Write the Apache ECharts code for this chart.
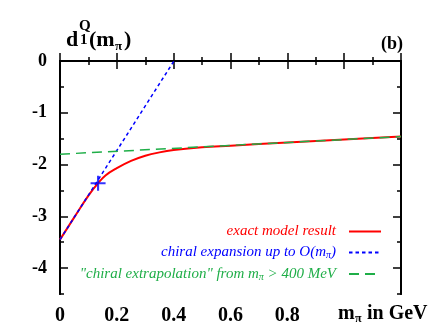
<!DOCTYPE html>
<html><head><meta charset="utf-8">
<script src="https://cdn.jsdelivr.net/npm/echarts@6/dist/echarts.min.js"></script>
<style>html,body{margin:0;padding:0;background:#fff}#c{width:436px;height:336px}</style>
</head><body><div id="c"></div>
<script>
// x in GeV, y = d1^Q
const exactX = [0, 0.05, 0.1, 0.134, 0.16, 0.2, 0.25, 0.3, 0.35, 0.4, 0.5, 0.6, 0.8, 1.0, 1.2];
const exactY = [-3.45, -3.02, -2.60, -2.36, -2.21, -2.07, -1.93, -1.83, -1.765, -1.72, -1.665, -1.635, -1.575, -1.515, -1.46];
const chiralX = [0, 0.401];
const chiralY = [-3.45, 0];
const extrapX = [0, 1.2];
const extrapY = [-1.80, -1.46];
const physPoint = [0.134, -2.36];
const xTickLabels = ['0', '0.2', '0.4', '0.6', '0.8'];
const yMajor = [-4, -3, -2, -1, 0];
const yMinor = [-4.5, -3.5, -2.5, -1.5, -0.5];
const names = ['exact model result', 'chiral expansion up to O(mπ)', '"chiral extrapolation" from mπ > 400 MeV'];

const zip = (a, b) => a.map((v, i) => [v, b[i]]);
const serif = '"Liberation Serif","Times New Roman",serif';
const frame = {lineStyle: {color: '#000', width: 2}};
const base = {min: -4.5, max: 0, type: 'value', splitLine: {show: false}, axisLine: frame};
const green = '#1fae48';

const chart = echarts.init(document.getElementById('c'));
const legendRich = {
  s: {fontSize: 10, fontStyle: 'italic', fontFamily: serif, verticalAlign: 'bottom', padding: [6, 0, 0, 0]}
};
const fmtName = n => n.replace('mπ', 'm{s|π}');
chart.setOption({
  animation: false,
  grid: {left: 60, right: 35, top: 61, bottom: 42},
  xAxis: [
    {type: 'value', min: 0, max: 1.2, interval: 0.2, position: 'bottom', splitLine: {show: false}, axisLine: frame,
     axisTick: {inside: true, length: 8, lineStyle: {color: '#000', width: 1.5}},
     minorTick: {show: true, splitNumber: 2, length: 4, lineStyle: {color: '#000', width: 1.5}},
     axisLabel: {margin: 12, fontSize: 20, fontWeight: 'bold', fontFamily: serif, color: '#000',
       formatter: v => { const i = Math.round(v / 0.2); return i < xTickLabels.length ? xTickLabels[i] : ''; }}},
    {type: 'value', min: 0, max: 1.2, interval: 0.2, position: 'top', splitLine: {show: false}, axisLine: frame,
     axisTick: {inside: true, length: 8, lineStyle: {color: '#000', width: 1.5}},
     minorTick: {show: true, splitNumber: 2, length: 4, lineStyle: {color: '#000', width: 1.5}},
     axisLabel: {show: false}}
  ],
  yAxis: [
    Object.assign({}, base, {position: 'left',
      axisTick: {inside: true, length: 8, customValues: yMajor, lineStyle: {color: '#000', width: 1.5}},
      axisLabel: {customValues: yMajor, margin: 13, fontSize: 18, fontWeight: 'bold', fontFamily: serif, color: '#000'}}),
    Object.assign({}, base, {position: 'left',
      axisTick: {inside: true, length: 4, customValues: yMinor, lineStyle: {color: '#000', width: 1.5}},
      axisLabel: {show: false}}),
    Object.assign({}, base, {position: 'right',
      axisTick: {inside: true, length: 8, customValues: yMajor, lineStyle: {color: '#000', width: 1.5}},
      axisLabel: {show: false}}),
    Object.assign({}, base, {position: 'right',
      axisTick: {inside: true, length: 4, customValues: yMinor, lineStyle: {color: '#000', width: 1.5}},
      axisLabel: {show: false}})
  ],
  legend: {
    orient: 'vertical', align: 'right', right: 54, top: 224, padding: 0, itemGap: 6, itemWidth: 32, itemHeight: 14,
    itemStyle: {color: 'rgba(0,0,0,0)', borderWidth: 0, opacity: 0},
    textStyle: {fontFamily: serif, fontStyle: 'italic', fontSize: 15, padding: [0, 8, 0, 0], rich: legendRich},
    formatter: fmtName,
    data: [
      {name: names[0], textStyle: {color: '#ff0000'}},
      {name: names[1], textStyle: {color: '#0000ff'}},
      {name: names[2], textStyle: {color: green}}
    ]
  },
  series: [
    {name: names[0], type: 'line', data: zip(exactX, exactY), smooth: 0.4, symbol: 'none',
     lineStyle: {color: '#ff0000', width: 2}, itemStyle: {color: '#ff0000'}, z: 2},
    {name: names[1], type: 'line', data: zip(chiralX, chiralY), symbol: 'none',
     lineStyle: {color: '#0000ff', width: 1.5, type: [3.5, 3]}, itemStyle: {color: '#0000ff'}, z: 3},
    {name: names[2], type: 'line', data: zip(extrapX, extrapY), symbol: 'none',
     lineStyle: {color: green, width: 1.5, type: [10, 6]}, itemStyle: {color: green}, z: 4},
    {name: 'phys', type: 'scatter', data: [physPoint], symbol: 'path://M-1.4,-10h2.8v20h-2.8z M-10,-1.4h20v2.8h-20z',
     symbolSize: 15, itemStyle: {color: '#0000ff'}, z: 5}
  ],
  graphic: [
    {type: 'text', left: 66, top: 29, style: {text: 'd', font: 'bold 22px ' + serif, fill: '#000'}},
    {type: 'text', left: 79, top: 19, style: {text: 'Q', font: 'bold 15px ' + serif, fill: '#000'}},
    {type: 'text', left: 80, top: 33, style: {text: '1', font: 'bold 15px ' + serif, fill: '#000'}},
    {type: 'text', left: 89, top: 29, style: {text: '(m', font: 'bold 22px ' + serif, fill: '#000'}},
    {type: 'text', left: 115, top: 40, style: {text: 'π', font: 'bold 13px ' + serif, fill: '#000'}},
    {type: 'text', left: 124, top: 29, style: {text: ')', font: 'bold 22px ' + serif, fill: '#000'}},
    {type: 'text', right: 33, top: 35, style: {text: '(b)', font: 'bold 18px ' + serif, fill: '#000'}},
    {type: 'text', left: 338, top: 304, style: {text: 'm', font: 'bold 20px ' + serif, fill: '#000'}},
    {type: 'text', left: 355, top: 313, style: {text: 'π', font: 'bold 12px ' + serif, fill: '#000'}},
    {type: 'text', left: 362, top: 304, style: {text: ' in GeV', font: 'bold 20px ' + serif, fill: '#000'}}
  ]
});
</script></body></html>
